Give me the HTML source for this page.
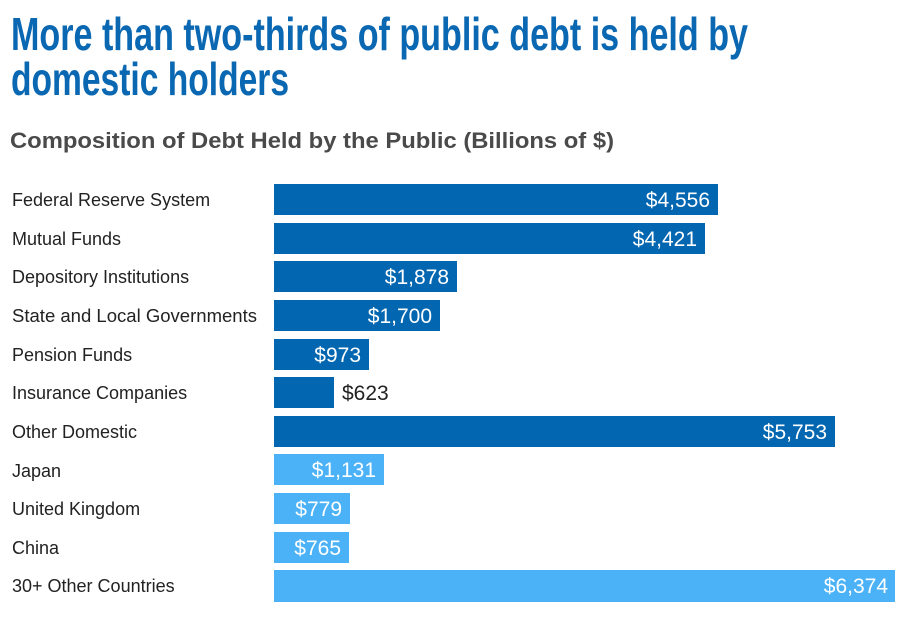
<!DOCTYPE html>
<html><head><meta charset="utf-8"><style>
html,body{margin:0;padding:0;background:#fff;}
svg{display:block;}
</style></head><body>
<svg width="911" height="627" viewBox="0 0 911 627" xmlns="http://www.w3.org/2000/svg">
<g font-family="'Liberation Sans Narrow','Liberation Sans',sans-serif" font-weight="bold" fill="#0a67b2" font-size="46">
<text x="11" y="50" textLength="737" lengthAdjust="spacingAndGlyphs">More than two-thirds of public debt is held by</text>
<text x="11" y="95" textLength="278" lengthAdjust="spacingAndGlyphs">domestic holders</text>
</g>
<text x="10" y="148" font-family="'Liberation Sans',sans-serif" font-weight="bold" font-size="22" fill="#4a4a4a" textLength="604" lengthAdjust="spacingAndGlyphs">Composition of Debt Held by the Public (Billions of $)</text>
<g font-family="'Liberation Sans',sans-serif" font-size="18" fill="#222">
<text x="12" y="206">Federal Reserve System</text>
<text x="12" y="245">Mutual Funds</text>
<text x="12" y="283">Depository Institutions</text>
<text x="12" y="322" textLength="245" lengthAdjust="spacingAndGlyphs">State and Local Governments</text>
<text x="12" y="361">Pension Funds</text>
<text x="12" y="399">Insurance Companies</text>
<text x="12" y="438">Other Domestic</text>
<text x="12" y="477">Japan</text>
<text x="12" y="515">United Kingdom</text>
<text x="12" y="554">China</text>
<text x="12" y="592">30+ Other Countries</text>
</g>
<g fill="#0366b0">
<rect x="274" y="184" width="444" height="31"/>
<rect x="274" y="223" width="431" height="31"/>
<rect x="274" y="261" width="183" height="31"/>
<rect x="274" y="300" width="166" height="31"/>
<rect x="274" y="339" width="95" height="31"/>
<rect x="274" y="377" width="60" height="31"/>
<rect x="274" y="416" width="561" height="31"/>
</g>
<g fill="#4cb2f7">
<rect x="274" y="454" width="110" height="31"/>
<rect x="274" y="493" width="76" height="31"/>
<rect x="274" y="532" width="75" height="31"/>
<rect x="274" y="570" width="621" height="32"/>
</g>
<g font-family="'Liberation Sans',sans-serif" font-size="21" fill="#fff" text-anchor="end">
<text x="710" y="207">$4,556</text>
<text x="697" y="246">$4,421</text>
<text x="449" y="284">$1,878</text>
<text x="432" y="323">$1,700</text>
<text x="361" y="362">$973</text>
<text x="827" y="439">$5,753</text>
<text x="376" y="477">$1,131</text>
<text x="342" y="516">$779</text>
<text x="341" y="555">$765</text>
<text x="888" y="593">$6,374</text>
</g>
<text x="342" y="400" font-family="'Liberation Sans',sans-serif" font-size="21" fill="#222">$623</text>
</svg>
</body></html>
